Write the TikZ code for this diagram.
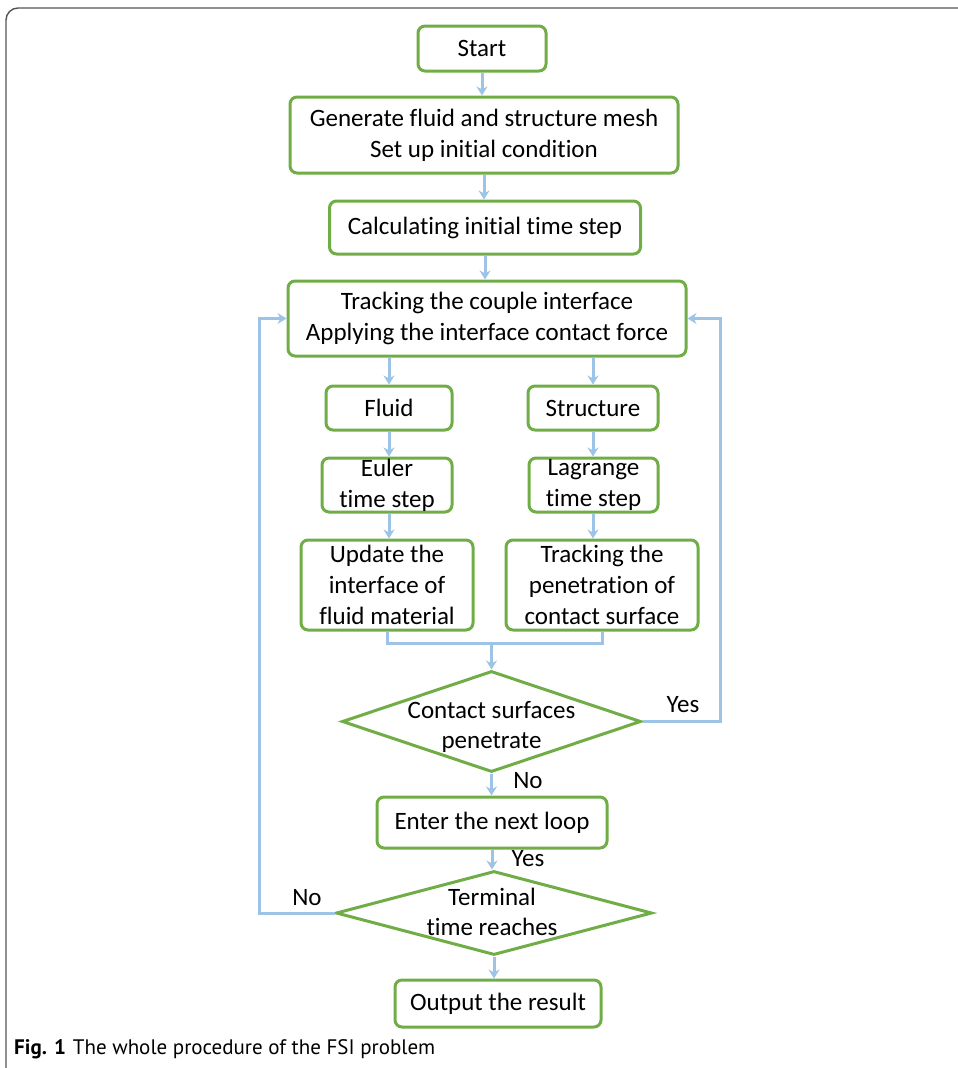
\documentclass[tikz,border=0pt]{standalone}
\usepackage{fontspec}
\setmainfont{Carlito}[Ligatures=NoCommon]
\newfontfamily\capfont{PT Sans}
\usetikzlibrary{shapes.geometric,arrows.meta}
\definecolor{boxgreen}{HTML}{70AD47}
\definecolor{arrblue}{HTML}{9DC3E6}
\definecolor{framegray}{HTML}{555555}
\begin{document}
\begin{tikzpicture}[x=1pt,y=-1pt,
  procbox/.style={draw=boxgreen, line width=3pt, rounded corners=7pt, fill=white,
    align=center, inner sep=0pt, font=\fontsize{25}{31}\selectfont},
  decision/.style={draw=boxgreen, line width=3pt, diamond, inner sep=0pt, fill=white},
  dtext/.style={align=center, inner sep=0pt, font=\fontsize{25}{30}\selectfont},
  lbl/.style={inner sep=0pt, font=\fontsize{25}{30}\selectfont},
  conn/.style={draw=arrblue, line width=3pt},
  arr/.style={conn, -{Stealth[length=9pt,width=11pt]}}]
\useasboundingbox (0,0) rectangle (958,1068);
% frame
\draw[framegray, line width=1.4pt, rounded corners=12pt] (6,1068) -- (6,8) -- (960,8);

% nodes
\node[procbox, minimum width=128pt, minimum height=45pt] (start) at (482,48.5) {Start};
\node[procbox, minimum width=388pt, minimum height=76pt] (gen) at (484,135) {Generate fluid and structure mesh\\Set up initial condition};
\node[procbox, minimum width=311pt, minimum height=53pt] (calc) at (485,227.5) {Calculating initial time step};
\node[procbox, minimum width=398pt, minimum height=75pt] (track) at (487,318.5) {Tracking the couple interface\\Applying the interface contact force};
\node[procbox, minimum width=126pt, minimum height=44pt] (fluid) at (389,408) {Fluid};
\node[procbox, minimum width=130pt, minimum height=44pt] (struct) at (593,408) {Structure};
\node[procbox, minimum width=130pt, minimum height=54pt] (euler) at (387,485) {Euler\\time step};
\node[procbox, minimum width=129pt, minimum height=54pt] (lag) at (593.5,485) {Lagrange\\time step};
\node[procbox, minimum width=172pt, minimum height=90pt] (upd) at (387,585) {Update the\\interface of\\fluid material};
\node[procbox, minimum width=192pt, minimum height=90pt] (pen) at (602,585) {Tracking the\\penetration of\\contact surface};
\node[decision, minimum width=299pt, minimum height=101pt] (d1) at (491.5,721.5) {};
\node[dtext] at (491.5,727) {Contact surfaces\\penetrate};
\node[procbox, minimum width=230pt, minimum height=51pt] (enter) at (492,822.5) {Enter the next loop};
\node[decision, minimum width=316pt, minimum height=84pt] (d2) at (494,913) {};
\node[dtext] at (492,912) {Terminal\\time reaches};
\node[procbox, minimum width=206pt, minimum height=47pt] (out) at (498,1003.5) {Output the result};

% labels
\node[lbl] (yes1) at (683,705) {Yes};
\node[lbl] (no1) at (528,781) {No};
\node[lbl] (yes2) at (528,859) {Yes};
\node[lbl] (no2) at (307,898) {No};

% coordinates
\coordinate (mergeL) at (387,643);
\coordinate (mergeR) at (602,643);
\coordinate (mergeM) at (491.5,643);
\coordinate (rloop) at (720,721.5);
\coordinate (lloop) at (259,913);

% connectors
\draw[arr] (start.south) -- (start.south |- gen.north);
\draw[arr] (gen.south) -- (gen.south |- calc.north);
\draw[arr] (calc.south) -- (calc.south |- track.north);
\draw[arr] (fluid.north |- track.south) -- (fluid.north);
\draw[arr] (struct.north |- track.south) -- (struct.north);
\draw[arr] (fluid.south) -- (fluid.south |- euler.north);
\draw[arr] (fluid.south |- euler.south) -- (fluid.south |- upd.north);
\draw[arr] (struct.south) -- (struct.south |- lag.north);
\draw[arr] (struct.south |- lag.south) -- (struct.south |- pen.north);
\draw[conn] (upd.south) -- (mergeL) -- (mergeR) -- (pen.south);
\draw[arr] (mergeM) -- (d1.north);
\draw[arr] (d1.east) -- (rloop) -- (rloop |- track.east) -- (track.east);
\draw[arr] (d1.south) -- (d1.south |- enter.north);
\draw[arr] (enter.south) -- (enter.south |- d2.north);
\draw[arr] (d2.west) -- (lloop) -- (lloop |- track.west) -- (track.west);
\draw[arr] (d2.south) -- (d2.south |- out.north);

% caption
\node[anchor=base west, inner sep=0pt, font=\capfont\fontsize{21}{25}\selectfont] (cap) at (14,1054) {\textbf{Fig. 1}\hspace{7pt}The whole procedure of the FSI problem};
\end{tikzpicture}
\end{document}
